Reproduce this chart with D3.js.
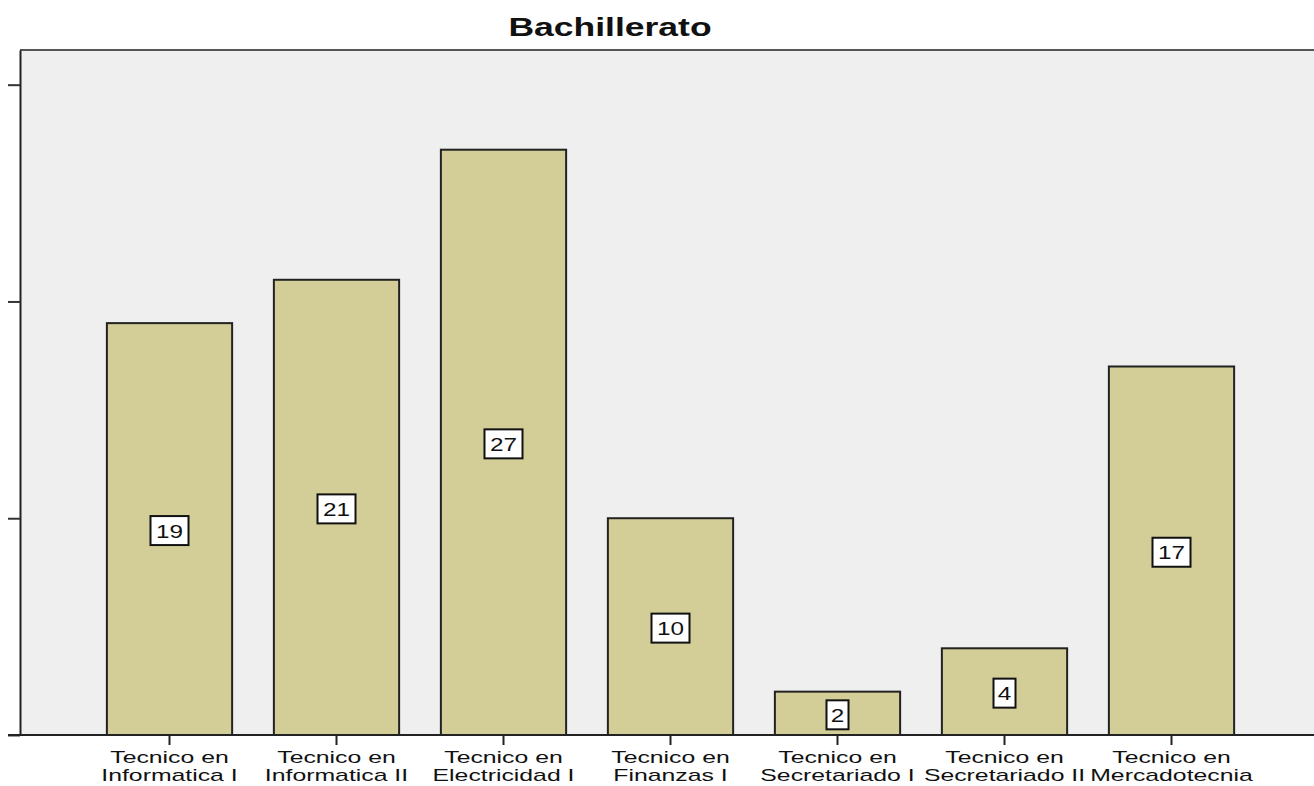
<!DOCTYPE html>
<html>
<head>
<meta charset="utf-8">
<script src="https://cdn.jsdelivr.net/npm/d3@7"></script>
<style>
  body { margin: 0; background: #fff; }
  svg { display: block; font-family: "Liberation Sans", Arial, sans-serif; }
</style>
</head>
<body>
<div id="chart"></div>
<script>
// data
const categories = [
  "Tecnico en|Informatica I",
  "Tecnico en|Informatica II",
  "Tecnico en|Electricidad I",
  "Tecnico en|Finanzas I",
  "Tecnico en|Secretariado I",
  "Tecnico en|Secretariado II",
  "Tecnico en|Mercadotecnia"
];
const values = [19, 21, 27, 10, 2, 4, 17];
const yTicks = [0, 10, 20, 30];
const title = "Bachillerato";

const width = 1314, height = 786;
const plotLeft = 20, plotTop = 50, plotBottom = 735, plotRight = 1314;

const svg = d3.select("#chart").append("svg")
  .attr("width", width)
  .attr("height", height);

const x = d3.scaleBand()
  .domain(categories)
  .range([86, 1255])
  .paddingInner(0.25)
  .paddingOuter(0.125);

const y = d3.scaleLinear()
  .domain([0, 31.6])
  .range([plotBottom, plotTop]);

// plot background
svg.append("rect")
  .attr("x", plotLeft).attr("y", plotTop)
  .attr("width", plotRight - plotLeft).attr("height", plotBottom - plotTop)
  .attr("fill", "#efefef");

// top frame line
svg.append("line")
  .attr("x1", plotLeft).attr("x2", plotRight)
  .attr("y1", plotTop).attr("y2", plotTop)
  .attr("stroke", "#555").attr("stroke-width", 2);

// bars
svg.selectAll(".bar")
  .data(values)
  .enter().append("rect")
  .attr("class", "bar")
  .attr("x", (d, i) => x(categories[i]))
  .attr("y", d => y(d))
  .attr("width", x.bandwidth())
  .attr("height", d => plotBottom - y(d))
  .attr("fill", "#d3ce97")
  .attr("stroke", "#222")
  .attr("stroke-width", 2);

// value labels in white boxes
const lab = svg.selectAll(".lab")
  .data(values)
  .enter().append("g")
  .attr("class", "lab")
  .attr("transform", (d, i) => `translate(${x(categories[i]) + x.bandwidth() / 2},${(y(d) + plotBottom) / 2 + 2})`);

lab.append("rect")
  .attr("x", d => String(d).length > 1 ? -19 : -11)
  .attr("y", -15)
  .attr("width", d => String(d).length > 1 ? 38 : 22)
  .attr("height", 29)
  .attr("fill", "#fff")
  .attr("stroke", "#111")
  .attr("stroke-width", 2);

lab.append("text")
  .attr("text-anchor", "middle")
  .attr("dy", "0.36em")
  .attr("font-size", 18)
  .attr("transform", "scale(1.35,1)")
  .attr("fill", "#111")
  .text(d => d);

// y axis
const yAxis = svg.append("g")
  .attr("transform", `translate(${plotLeft},0)`)
  .call(d3.axisLeft(y).tickValues(yTicks).tickSize(12).tickSizeOuter(0).tickFormat(""));
yAxis.select(".domain").attr("stroke", "#222").attr("stroke-width", 2);
yAxis.selectAll(".tick line").attr("stroke", "#333").attr("stroke-width", 2);

// x axis
const xAxis = svg.append("g")
  .attr("transform", `translate(0,${plotBottom})`)
  .call(d3.axisBottom(x).tickSize(10).tickSizeOuter(0).tickFormat(""));
xAxis.select(".domain").remove();
xAxis.selectAll(".tick line").attr("stroke", "#222").attr("stroke-width", 2);
svg.append("line")
  .attr("x1", 8).attr("x2", plotRight)
  .attr("y1", plotBottom).attr("y2", plotBottom)
  .attr("stroke", "#222").attr("stroke-width", 2);

// x labels (two lines, wide lettering)
const xl = svg.selectAll(".xl")
  .data(categories)
  .enter().append("text")
  .attr("class", "xl")
  .attr("text-anchor", "middle")
  .attr("font-size", 16)
  .attr("fill", "#111")
  .attr("transform", d => `translate(${x(d) + x.bandwidth() / 2},0) scale(1.55,1)`);
xl.append("tspan").attr("x", 0).attr("y", 763).text(d => d.split("|")[0]);
xl.append("tspan").attr("x", 0).attr("y", 781).text(d => d.split("|")[1]);

// title
svg.append("text")
  .attr("transform", "translate(610,36) scale(1.42,1)")
  .attr("text-anchor", "middle")
  .attr("font-size", 25)
  .attr("font-weight", "bold")
  .attr("fill", "#111")
  .text(title);
</script>
</body>
</html>
